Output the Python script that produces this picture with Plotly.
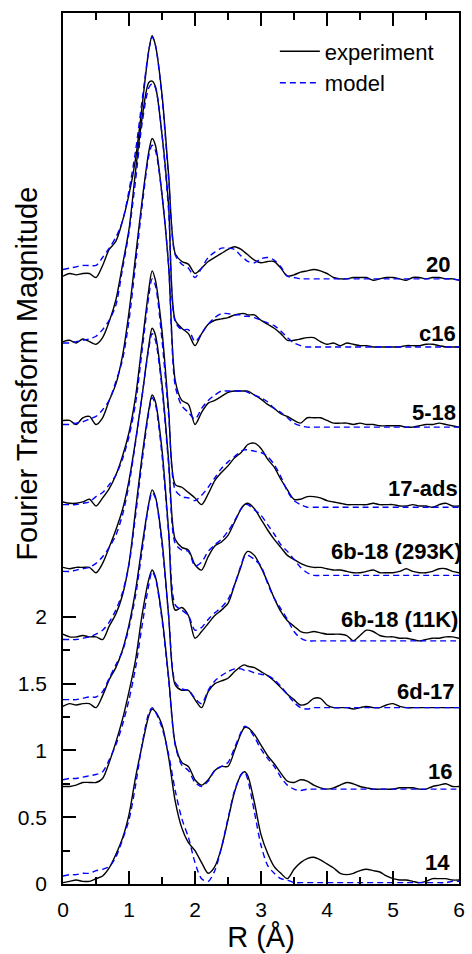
import plotly.graph_objects as go

# R grid (Å)
R = [0.0, 0.1, 0.2, 0.3, 0.4, 0.5, 0.6, 0.7, 0.8, 0.9,
     1.0, 1.1, 1.2, 1.3, 1.35, 1.4,
     1.5, 1.6, 1.7, 1.8, 1.9, 2.0, 2.1, 2.2, 2.3, 2.4, 2.5, 2.6, 2.7,
     2.75, 2.8, 2.9,
     3.0, 3.1, 3.2, 3.3, 3.4, 3.5, 3.6, 3.7, 3.8, 3.9,
     4.0, 4.1, 4.2, 4.3, 4.4, 4.5, 4.6, 4.7, 4.8, 4.9,
     5.0, 5.1, 5.2, 5.3, 5.4, 5.5, 5.6, 5.7, 5.8, 5.9, 6.0]

SAMPLES = ["20", "c16", "5-18", "17-ads", "6b-18 (293K)", "6b-18 (11K)", "6d-17", "16", "14"]

# stacked (offset) Fourier-transform magnitudes, experiment and model
EXP_20 = [4.55, 4.57, 4.56, 4.57, 4.57, 4.54, 4.63, 4.75, 4.81, 4.96,
          5.16, 5.43, 5.83, 6.24, 6.35, 6.28,
          5.91, 5.31, 4.72, 4.66, 4.64, 4.57, 4.61, 4.66, 4.69, 4.72, 4.75, 4.77, 4.75,
          4.73, 4.71, 4.67,
          4.65, 4.66, 4.66, 4.61, 4.55, 4.56, 4.58, 4.59, 4.60, 4.59,
          4.57, 4.54, 4.53, 4.53, 4.54, 4.54, 4.54, 4.52, 4.53, 4.54,
          4.54, 4.53, 4.52, 4.54, 4.54, 4.53, 4.54, 4.54, 4.53, 4.53, 4.52]
MOD_20 = [4.60, 4.61, 4.62, 4.63, 4.63, 4.63, 4.69, 4.76, 4.84, 4.96,
          5.19, 5.49, 5.87, 6.24, 6.34, 6.28,
          5.89, 5.28, 4.71, 4.64, 4.61, 4.54, 4.61, 4.69, 4.73, 4.76, 4.76, 4.75, 4.70,
          4.68, 4.66, 4.65,
          4.68, 4.69, 4.67, 4.62, 4.55, 4.54, 4.53, 4.53, 4.53, 4.53,
          4.53, 4.53, 4.53, 4.53, 4.53, 4.53, 4.53, 4.53, 4.53, 4.53,
          4.53, 4.53, 4.53, 4.53, 4.53, 4.53, 4.53, 4.53, 4.53, 4.53, 4.52]

EXP_C16 = [4.06, 4.07, 4.05, 4.08, 4.06, 4.04, 4.09, 4.21, 4.37, 4.63,
           4.90, 5.34, 5.74, 6.00, 6.01, 5.97,
           5.61, 5.08, 4.22, 4.16, 4.12, 4.03, 4.12, 4.19, 4.22, 4.23, 4.24, 4.26, 4.27,
           4.27, 4.26, 4.26,
           4.22, 4.19, 4.16, 4.12, 4.07, 4.07, 4.08, 4.09, 4.09, 4.06,
           4.04, 4.05, 4.03, 4.05, 4.04, 4.03, 4.03, 4.02, 4.02, 4.02,
           4.02, 4.02, 4.03, 4.03, 4.03, 4.04, 4.04, 4.03, 4.02, 4.02, 4.02]
MOD_C16 = [4.05, 4.05, 4.06, 4.07, 4.08, 4.10, 4.15, 4.22, 4.33, 4.60,
           4.88, 5.27, 5.70, 5.96, 5.99, 5.96,
           5.61, 5.04, 4.21, 4.15, 4.15, 4.06, 4.12, 4.19, 4.24, 4.27, 4.27, 4.26, 4.26,
           4.25, 4.25, 4.24,
           4.22, 4.20, 4.18, 4.14, 4.09, 4.05, 4.03, 4.02, 4.02, 4.02,
           4.02, 4.02, 4.02, 4.02, 4.02, 4.02, 4.02, 4.02, 4.02, 4.02,
           4.02, 4.02, 4.02, 4.02, 4.02, 4.02, 4.02, 4.02, 4.02, 4.02, 4.02]

EXP_518 = [3.47, 3.47, 3.44, 3.49, 3.50, 3.44, 3.49, 3.62, 3.74, 3.95,
           4.28, 4.70, 5.12, 5.48, 5.58, 5.53,
           5.16, 4.63, 3.77, 3.62, 3.59, 3.44, 3.53, 3.60, 3.62, 3.65, 3.68, 3.69, 3.69,
           3.69, 3.69, 3.66,
           3.63, 3.59, 3.56, 3.52, 3.50, 3.47, 3.45, 3.49, 3.49, 3.49,
           3.47, 3.45, 3.45, 3.45, 3.44, 3.45, 3.44, 3.44, 3.43, 3.43,
           3.43, 3.43, 3.42, 3.42, 3.43, 3.44, 3.44, 3.45, 3.44, 3.43, 3.42]
MOD_518 = [3.44, 3.44, 3.45, 3.46, 3.48, 3.50, 3.55, 3.62, 3.76, 3.92,
           4.22, 4.64, 5.08, 5.45, 5.53, 5.49,
           5.16, 4.63, 3.73, 3.58, 3.53, 3.48, 3.56, 3.62, 3.66, 3.69, 3.69, 3.69, 3.69,
           3.69, 3.68, 3.66,
           3.64, 3.61, 3.56, 3.53, 3.49, 3.45, 3.43, 3.42, 3.42, 3.42,
           3.42, 3.42, 3.42, 3.42, 3.42, 3.42, 3.42, 3.42, 3.42, 3.42,
           3.42, 3.42, 3.42, 3.42, 3.42, 3.42, 3.42, 3.42, 3.42, 3.42, 3.42]

EXP_17ADS = [2.86, 2.85, 2.85, 2.86, 2.88, 2.83, 2.89, 2.96, 3.06, 3.20,
             3.38, 3.65, 4.05, 4.45, 4.59, 4.52,
             4.14, 3.55, 2.99, 2.97, 2.93, 2.89, 2.84, 2.92, 3.02, 3.08, 3.13, 3.19, 3.23,
             3.26, 3.29, 3.30,
             3.26, 3.18, 3.12, 3.03, 2.95, 2.88, 2.88, 2.90, 2.90, 2.89,
             2.87, 2.86, 2.85, 2.84, 2.84, 2.84, 2.84, 2.85, 2.84, 2.84,
             2.84, 2.83, 2.83, 2.84, 2.83, 2.83, 2.82, 2.84, 2.85, 2.83, 2.83]
MOD_17ADS = [2.84, 2.84, 2.84, 2.85, 2.86, 2.90, 2.93, 2.99, 3.06, 3.18,
             3.35, 3.60, 4.00, 4.40, 4.53, 4.48,
             4.07, 3.51, 2.95, 2.90, 2.89, 2.87, 2.91, 2.97, 3.04, 3.11, 3.16, 3.20, 3.24,
             3.25, 3.25, 3.24,
             3.23, 3.20, 3.14, 3.05, 2.94, 2.87, 2.84, 2.82, 2.82, 2.82,
             2.82, 2.82, 2.82, 2.82, 2.82, 2.82, 2.82, 2.82, 2.82, 2.82,
             2.82, 2.82, 2.82, 2.82, 2.82, 2.82, 2.82, 2.82, 2.82, 2.82, 2.82]

EXP_293K = [2.37, 2.36, 2.37, 2.37, 2.37, 2.33, 2.40, 2.52, 2.65, 2.80,
            3.02, 3.32, 3.66, 4.03, 4.16, 4.11,
            3.74, 3.17, 2.58, 2.52, 2.50, 2.39, 2.35, 2.45, 2.53, 2.56, 2.61, 2.71, 2.81,
            2.84, 2.85, 2.81,
            2.73, 2.65, 2.58, 2.52, 2.46, 2.43, 2.40, 2.38, 2.37, 2.37,
            2.36, 2.35, 2.35, 2.34, 2.33, 2.33, 2.34, 2.35, 2.33, 2.33,
            2.33, 2.34, 2.36, 2.34, 2.33, 2.33, 2.34, 2.36, 2.36, 2.34, 2.33]
MOD_293K = [2.34, 2.34, 2.35, 2.36, 2.37, 2.40, 2.45, 2.52, 2.61, 2.76,
            2.99, 3.31, 3.66, 4.01, 4.12, 4.07,
            3.71, 3.14, 2.55, 2.50, 2.49, 2.38, 2.41, 2.49, 2.54, 2.58, 2.64, 2.72, 2.81,
            2.84, 2.84, 2.80,
            2.76, 2.69, 2.62, 2.54, 2.49, 2.43, 2.37, 2.33, 2.31, 2.31,
            2.31, 2.31, 2.31, 2.31, 2.31, 2.31, 2.31, 2.31, 2.31, 2.31,
            2.31, 2.31, 2.31, 2.31, 2.31, 2.31, 2.31, 2.31, 2.31, 2.31, 2.31]

EXP_11K = [1.87, 1.85, 1.85, 1.86, 1.85, 1.85, 1.83, 1.93, 2.02, 2.16,
           2.40, 2.80, 3.21, 3.55, 3.66, 3.61,
           3.25, 2.65, 2.05, 2.07, 2.01, 1.84, 1.89, 1.95, 2.01, 2.05, 2.10, 2.24, 2.38,
           2.46, 2.49, 2.46,
           2.37, 2.26, 2.14, 2.04, 1.97, 1.93, 1.89, 1.88, 1.89, 1.88,
           1.87, 1.87, 1.87, 1.86, 1.82, 1.86, 1.90, 1.89, 1.86, 1.85,
           1.85, 1.84, 1.84, 1.83, 1.82, 1.83, 1.84, 1.84, 1.85, 1.85, 1.84]
MOD_11K = [1.83, 1.83, 1.83, 1.84, 1.85, 1.87, 1.90, 1.96, 2.05, 2.18,
           2.39, 2.76, 3.17, 3.53, 3.64, 3.59,
           3.21, 2.63, 2.09, 2.05, 2.01, 1.90, 1.92, 1.98, 2.03, 2.07, 2.13, 2.24, 2.39,
           2.45, 2.46, 2.43,
           2.38, 2.25, 2.14, 2.06, 1.98, 1.89, 1.84, 1.82, 1.82, 1.82,
           1.82, 1.82, 1.82, 1.82, 1.82, 1.82, 1.82, 1.82, 1.82, 1.82,
           1.82, 1.82, 1.82, 1.82, 1.82, 1.82, 1.82, 1.82, 1.82, 1.82, 1.82]

EXP_6D17 = [1.33, 1.35, 1.34, 1.35, 1.35, 1.32, 1.41, 1.53, 1.62, 1.75,
            1.94, 2.20, 2.54, 2.85, 2.95, 2.90,
            2.57, 2.01, 1.49, 1.45, 1.45, 1.38, 1.32, 1.44, 1.50, 1.52, 1.54, 1.59, 1.63,
            1.64, 1.63, 1.62,
            1.59, 1.56, 1.52, 1.47, 1.42, 1.38, 1.34, 1.35, 1.39, 1.39,
            1.34, 1.32, 1.32, 1.32, 1.31, 1.32, 1.33, 1.32, 1.32, 1.34,
            1.35, 1.33, 1.32, 1.32, 1.32, 1.32, 1.32, 1.32, 1.32, 1.32, 1.32]
MOD_6D17 = [1.38, 1.38, 1.38, 1.39, 1.40, 1.40, 1.44, 1.54, 1.64, 1.74,
            1.92, 2.16, 2.50, 2.84, 2.93, 2.89,
            2.54, 2.01, 1.51, 1.46, 1.45, 1.39, 1.35, 1.45, 1.52, 1.56, 1.59, 1.61, 1.61,
            1.60, 1.60, 1.58,
            1.57, 1.56, 1.53, 1.48, 1.42, 1.36, 1.32, 1.31, 1.32, 1.32,
            1.32, 1.32, 1.32, 1.32, 1.32, 1.32, 1.32, 1.32, 1.32, 1.32,
            1.32, 1.32, 1.32, 1.32, 1.32, 1.32, 1.32, 1.32, 1.32, 1.32, 1.32]

EXP_16 = [0.73, 0.73, 0.74, 0.76, 0.76, 0.76, 0.79, 0.91, 1.06, 1.23,
          1.44, 1.68, 2.02, 2.28, 2.35, 2.30,
          2.00, 1.55, 1.05, 0.91, 0.88, 0.78, 0.74, 0.78, 0.85, 0.88, 0.88, 1.00, 1.13,
          1.17, 1.17, 1.12,
          1.04, 0.96, 0.90, 0.83, 0.77, 0.76, 0.78, 0.77, 0.74, 0.72,
          0.71, 0.72, 0.74, 0.76, 0.75, 0.73, 0.72, 0.71, 0.71, 0.71,
          0.71, 0.72, 0.72, 0.72, 0.71, 0.71, 0.73, 0.74, 0.75, 0.73, 0.73]
MOD_16 = [0.78, 0.79, 0.79, 0.80, 0.81, 0.82, 0.84, 0.93, 1.04, 1.19,
          1.38, 1.62, 1.94, 2.24, 2.34, 2.29,
          1.98, 1.53, 1.04, 0.89, 0.85, 0.76, 0.73, 0.77, 0.85, 0.88, 0.91, 1.02, 1.14,
          1.18, 1.17, 1.10,
          1.01, 0.94, 0.88, 0.80, 0.74, 0.71, 0.70, 0.71, 0.71, 0.71,
          0.71, 0.71, 0.71, 0.71, 0.71, 0.71, 0.71, 0.71, 0.71, 0.71,
          0.71, 0.71, 0.71, 0.71, 0.71, 0.71, 0.71, 0.71, 0.71, 0.71, 0.71]

EXP_14 = [0.01, 0.02, 0.03, 0.02, 0.02, 0.04, 0.06, 0.12, 0.22, 0.34,
          0.52, 0.80, 1.04, 1.26, 1.31, 1.29,
          1.19, 0.95, 0.62, 0.42, 0.31, 0.25, 0.16, 0.08, 0.13, 0.27, 0.48, 0.69, 0.82,
          0.84, 0.81, 0.61,
          0.37, 0.23, 0.13, 0.08, 0.04, 0.11, 0.16, 0.19, 0.20, 0.18,
          0.15, 0.12, 0.08, 0.07, 0.08, 0.10, 0.11, 0.10, 0.09, 0.06,
          0.04, 0.03, 0.03, 0.02, 0.01, 0.02, 0.04, 0.04, 0.04, 0.03, 0.03]
MOD_14 = [0.06, 0.07, 0.07, 0.08, 0.08, 0.10, 0.11, 0.13, 0.20, 0.33,
          0.48, 0.74, 1.05, 1.28, 1.32, 1.29,
          1.17, 0.97, 0.70, 0.49, 0.35, 0.16, 0.04, 0.02, 0.10, 0.27, 0.49, 0.70, 0.82,
          0.84, 0.78, 0.54,
          0.29, 0.14, 0.08, 0.04, 0.03, 0.01, 0.01, 0.01, 0.01, 0.01,
          0.01, 0.01, 0.01, 0.01, 0.01, 0.01, 0.01, 0.01, 0.01, 0.01,
          0.01, 0.01, 0.01, 0.01, 0.01, 0.01, 0.01, 0.01, 0.01, 0.02, 0.02]

EXPERIMENT = [EXP_20, EXP_C16, EXP_518, EXP_17ADS, EXP_293K, EXP_11K, EXP_6D17, EXP_16, EXP_14]
MODEL = [MOD_20, MOD_C16, MOD_518, MOD_17ADS, MOD_293K, MOD_11K, MOD_6D17, MOD_16, MOD_14]

# sample label placement (right edge in Å, vertical centre in data units)
LABEL_X = [5.77, 5.87, 5.86, 5.90, 5.95, 5.90, 5.83, 5.80, 5.78]
LABEL_Y = [4.64, 4.12, 3.53, 2.96, 2.49, 1.98, 1.44, 0.84, 0.16]

Y_TICKS = [0, 0.5, 1, 1.5, 2]
Y_TICK_TEXT = ["0", "0.5", "1", "1.5", "2"]
Y_MINOR = [0.25, 0.75, 1.25, 1.75]

for a, b, n in zip(EXPERIMENT, MODEL, SAMPLES):
    if len(a) != len(R) or len(b) != len(R):
        raise ValueError(f"length mismatch {n}: {len(a)} {len(b)} vs {len(R)}")

FONT = "Liberation Sans, Arial, Helvetica, sans-serif"

fig = go.Figure()
for i, name in enumerate(SAMPLES):
    fig.add_trace(go.Scatter(
        x=R, y=EXPERIMENT[i], mode="lines", name="experiment",
        showlegend=(i == 0),
        line=dict(color="black", width=1.4, shape="spline", smoothing=0.8),
        hoverinfo="skip"))
for i, name in enumerate(SAMPLES):
    fig.add_trace(go.Scatter(
        x=R, y=MODEL[i], mode="lines", name="model",
        showlegend=(i == 0),
        line=dict(color="#0000ff", width=1.4, dash="6px,4px", shape="spline", smoothing=0.8),
        hoverinfo="skip"))

annotations = []
for name, lx, ly in zip(SAMPLES, LABEL_X, LABEL_Y):
    annotations.append(dict(
        x=lx, y=ly, xref="x", yref="y", text=f"<b>{name}</b>", showarrow=False,
        xanchor="right", yanchor="middle", xshift=8,
        font=dict(family=FONT, size=22, color="black")))
annotations.append(dict(
    x=-0.092, y=0.5855, xref="paper", yref="paper", text="Fourier Transform Magnitude",
    showarrow=False, textangle=-90, xanchor="center", yanchor="middle",
    font=dict(family=FONT, size=29, color="black")))

fig.update_layout(
    width=472, height=954,
    margin=dict(l=63, r=7, t=13, b=70),
    paper_bgcolor="white", plot_bgcolor="white",
    font=dict(family=FONT, color="black"),
    showlegend=True,
    legend=dict(x=0.535, y=0.980, xanchor="left", yanchor="top",
                bgcolor="rgba(0,0,0,0)", font=dict(family=FONT, size=22),
                itemwidth=40, tracegroupgap=0, traceorder="normal"),
    annotations=annotations,
    xaxis=dict(
        range=[0, 6], tickmode="array", tickvals=[0, 1, 2, 3, 4, 5, 6],
        ticks="inside", ticklen=13, tickwidth=1.5, tickcolor="black",
        showline=True, linewidth=1.5, linecolor="black", mirror="ticks",
        showgrid=False, zeroline=False,
        tickfont=dict(family=FONT, size=21, color="black"),
        ticklabelstandoff=6,
        minor=dict(tickmode="array", tickvals=[0.5, 1.5, 2.5, 3.5, 4.5, 5.5],
                   ticks="inside", ticklen=7, tickwidth=1.5, tickcolor="black", showgrid=False),
        title=dict(text="R (Å)", font=dict(family=FONT, size=29, color="black"), standoff=4),
    ),
    yaxis=dict(
        range=[0, 6.52], tickmode="array", tickvals=Y_TICKS, ticktext=Y_TICK_TEXT,
        ticks="inside", ticklen=13, tickwidth=1.5, tickcolor="black",
        showline=True, linewidth=1.5, linecolor="black", mirror=True,
        showgrid=False, zeroline=False,
        tickfont=dict(family=FONT, size=21, color="black"),
        ticklabelstandoff=10,
        minor=dict(tickmode="array", tickvals=Y_MINOR,
                   ticks="inside", ticklen=7, tickwidth=1.5, tickcolor="black", showgrid=False),
    ),
)

fig.write_html("out.html")
